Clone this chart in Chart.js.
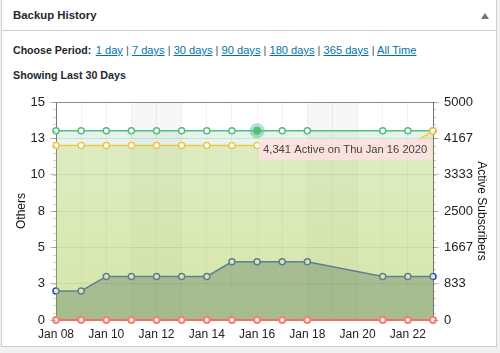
<!DOCTYPE html>
<html>
<head>
<meta charset="utf-8">
<script src="https://cdn.jsdelivr.net/npm/chart.js@4/dist/chart.umd.min.js"></script>
<style>
  html, body { margin: 0; padding: 0; background: #f1f1f1; width: 500px; height: 353px; overflow: hidden; }
  body { font-family: 'Liberation Sans', Arial, sans-serif; color: #23282d; position: relative; }
  .box { position: absolute; left: 1px; top: -1px; width: 496px; height: 348px; background: #fff; border: 1px solid #ccd0d4; box-sizing: border-box; }
  .hdr { position: absolute; left: 0; top: 0; width: 100%; height: 31px; border-bottom: 1px solid #ccd0d4; box-sizing: border-box; }
  .hdr h2 { position: absolute; left: 11px; top: 8px; margin: 0; font-size: 11.4px; font-weight: bold; line-height: 14px; }
  .arrow { position: absolute; left: 479px; top: 13px; width: 0; height: 0; border-left: 4px solid transparent; border-right: 4px solid transparent; border-bottom: 6px solid #72777c; }
  .period { position: absolute; left: 11px; top: 42px; margin: 0; white-space: nowrap; line-height: 14px; }
  .period b { font-size: 10.6px; }
  .period span { font-size: 11.1px; color: #555; }
  .period a { color: #0073aa; text-decoration: underline; }
  .showing { position: absolute; left: 11px; top: 68px; margin: 0; font-size: 10.7px; font-weight: bold; line-height: 14px; }
  .chart { position: absolute; left: 7px; top: 89px; width: 484px; height: 257px; }
</style>
</head>
<body>
<div class="box">
  <div class="hdr"><h2>Backup History</h2><div class="arrow"></div></div>
  <p class="period"><b>Choose Period:</b> <span><a>1 day</a> | <a>7 days</a> | <a>30 days</a> | <a>90 days</a> | <a>180 days</a> | <a>365 days</a> | <a>All Time</a></span></p>
  <p class="showing">Showing Last 30 Days</p>
  <div class="chart"><canvas id="myChart"></canvas></div>
</div>
<script>
// dates shown on the x axis (2020)
var dates = ['2020-01-08', '2020-01-09', '2020-01-10', '2020-01-11', '2020-01-12', '2020-01-13', '2020-01-14', '2020-01-15',
  '2020-01-16', '2020-01-17', '2020-01-18', '2020-01-19', '2020-01-20', '2020-01-21', '2020-01-22', '2020-01-23'];
var labels = ['Jan 08', 'Jan 09', 'Jan 10', 'Jan 11', 'Jan 12', 'Jan 13', 'Jan 14', 'Jan 15',
  'Jan 16', 'Jan 17', 'Jan 18', 'Jan 19', 'Jan 20', 'Jan 21', 'Jan 22', 'Jan 23'];

// series (null = no backup data that day)
var activeSubscribers = [4341, 4341, 4341, 4341, 4341, 4341, 4341, 4341, 4341, 4341, 4341, null, null, 4341, 4341, 4341];
var yellowSeries = [12, 12, 12, 12, 12, 12, 12, 12, 12, 12, 12, null, null, 12, 12, 13];
var blueSeries = [2, 2, 3, 3, 3, 3, 3, 4, 4, 4, 4, null, null, 3, 3, 3];
var redSeries = [0, 0, 0, 0, 0, 0, 0, 0, 0, 0, 0, null, null, 0, 0, 0];

var leftTicks = [0, 3, 5, 8, 10, 13, 15];
var rightTicks = [0, 833, 1667, 2500, 3333, 4167, 5000];
var hoverDate = 'Jan 16';

var font = "'Liberation Sans', Arial, sans-serif";

// grey bands behind the weekends, plot border and minor ticks
var weekendBands = {
  id: 'weekendBands',
  beforeDatasetsDraw: function (chart) {
    var ctx = chart.ctx, x = chart.scales.x, area = chart.chartArea;
    ctx.save();
    ctx.fillStyle = 'rgba(0,0,0,0.03)';
    dates.forEach(function (d, i) {
      var day = new Date(d + 'T12:00:00').getDay();
      if (day === 6) {
        var x0 = x.getPixelForValue(i);
        var x1 = x.getPixelForValue(Math.min(i + 2, dates.length - 1));
        ctx.fillRect(x0, area.top, x1 - x0, area.bottom - area.top);
      }
    });
    ctx.restore();
  },
  afterDraw: function (chart) {
    var ctx = chart.ctx, area = chart.chartArea;
    ctx.save();
    ctx.strokeStyle = '#8a8a8a';
    ctx.lineWidth = 1;
    ctx.beginPath();
    ctx.moveTo(area.left, area.top + 0.5);
    ctx.lineTo(area.right, area.top + 0.5);
    ctx.stroke();
    ctx.strokeStyle = 'rgba(0,0,0,0.18)';
    var y = chart.scales.y;
    for (var v = 0; v <= 15; v += 0.5) {
      var py = Math.round(y.getPixelForValue(v)) + 0.5;
      ctx.beginPath();
      ctx.moveTo(area.left - 3, py); ctx.lineTo(area.left, py);
      ctx.moveTo(area.right, py); ctx.lineTo(area.right + 3, py);
      ctx.stroke();
    }
    ctx.restore();
  }
};

function yellowFill(context) {
  var area = context.chart.chartArea;
  if (!area) return 'rgba(200,205,60,0.3)';
  var g = context.chart.ctx.createLinearGradient(0, area.top, 0, area.bottom);
  g.addColorStop(0, 'rgba(200,205,60,0.2)');
  g.addColorStop(1, 'rgba(190,205,60,0.38)');
  return g;
}

Chart.Tooltip.positioners.belowRight = function (items) {
  if (!items.length) return false;
  var el = items[0].element;
  return { x: el.x + 2, y: el.y, xAlign: 'left', yAlign: 'top' };
};

var ctx = document.getElementById('myChart').getContext('2d');
var myChart = new Chart(ctx, {
  type: 'line',
  data: {
    labels: labels,
    datasets: [
      {
        label: 'Red',
        data: redSeries,
        yAxisID: 'y',
        order: -1,
        clip: 4,
        borderColor: 'rgb(240,112,100)',
        borderWidth: 2,
        backgroundColor: 'rgba(240,120,110,0.2)',
        pointBackgroundColor: 'rgb(255,236,234)',
        pointBorderColor: 'rgb(240,130,120)',
        fill: false,
      },
      {
        label: 'Yellow',
        data: yellowSeries,
        yAxisID: 'y',
        borderColor: 'rgb(240,198,74)',
        backgroundColor: yellowFill,
        pointBackgroundColor: '#fff',
        fill: 'origin',
      },
      {
        label: 'Active Subscribers',
        data: activeSubscribers,
        yAxisID: 'y1',
        borderColor: 'rgb(82,190,128)',
        backgroundColor: 'rgba(82,190,128,0.15)',
        pointBackgroundColor: '#fff',
        pointHoverRadius: 4,
        pointHoverBorderWidth: 7,
        pointHoverBorderColor: 'rgba(82,190,128,0.45)',
        pointHoverBackgroundColor: 'rgb(82,190,128)',
        fill: 'origin',
      },
      {
        label: 'Blue',
        data: blueSeries,
        yAxisID: 'y',
        borderColor: 'rgb(40,70,200)',
        backgroundColor: 'rgba(30,60,120,0.4)',
        pointBackgroundColor: '#fff',
        fill: 'origin',
      },
    ],
  },
  options: {
    responsive: true,
    maintainAspectRatio: false,
    animation: false,
    events: [],
    spanGaps: true,
    layout: { padding: { top: 13 } },
    elements: {
      line: { tension: 0, borderWidth: 1.5 },
      point: { radius: 3, borderWidth: 1.5 },
    },
    plugins: {
      legend: { display: false },
      tooltip: {
        position: 'belowRight',
        caretSize: 0,
        caretPadding: 8,
        cornerRadius: 0,
        displayColors: false,
        backgroundColor: 'rgba(255,225,228,0.85)',
        bodyColor: '#444',
        bodyFont: { family: font, size: 11.2 },
        padding: { x: 4, y: 4 },
        filter: function (item) { return item.dataset.yAxisID === 'y1'; },
        callbacks: {
          title: function () { return ''; },
          label: function (item) {
            var d = new Date(dates[item.dataIndex] + 'T12:00:00');
            return item.raw.toLocaleString('en-US') + ' Active on ' + d.toDateString();
          },
        },
      },
    },
    scales: {
      x: {
        grid: { color: 'rgba(0,0,0,0.05)', drawTicks: false },
        border: { display: false },
        afterFit: function (s) { s.height = 26; },
        ticks: {
          autoSkip: false,
          maxRotation: 0,
          padding: 7,
          color: '#222',
          font: { family: font, size: 12 },
          callback: function (v, i) { return i % 2 === 0 ? labels[i] : ''; },
        },
      },
      y: {
        position: 'left',
        min: 0,
        max: 15,
        afterBuildTicks: function (s) { s.ticks = leftTicks.map(function (v, i) { return { value: i * 2.5 }; }); },
        afterFit: function (s) { s.width = 47; },
        grid: { color: 'rgba(0,0,0,0.1)', tickLength: 6, tickColor: 'rgba(0,0,0,0.25)' },
        border: { color: '#777' },
        title: { display: true, text: 'Others', color: '#111', font: { family: font, size: 12 }, padding: { top: 5, bottom: 0 } },
        ticks: {
          padding: 5,
          color: '#222',
          font: { family: font, size: 13 },
          callback: function (v, i) { return leftTicks[i]; },
        },
      },
      y1: {
        position: 'right',
        min: 0,
        max: 5000,
        afterBuildTicks: function (s) { s.ticks = rightTicks.map(function (v, i) { return { value: i * 5000 / 6 }; }); },
        afterFit: function (s) { s.width = 60; },
        grid: { drawOnChartArea: false, tickLength: 6, tickColor: 'rgba(0,0,0,0.25)' },
        border: { color: '#777' },
        title: { display: true, text: 'Active Subscribers', color: '#111', font: { family: font, size: 12 }, padding: { top: 4, bottom: 0 } },
        ticks: {
          padding: 5,
          color: '#222',
          font: { family: font, size: 13 },
          callback: function (v, i) { return rightTicks[i]; },
        },
      },
    },
  },
  plugins: [weekendBands],
});

var hoverIndex = labels.indexOf(hoverDate);
myChart.setActiveElements([{ datasetIndex: 2, index: hoverIndex }]);
myChart.tooltip.setActiveElements([{ datasetIndex: 2, index: hoverIndex }], { x: 0, y: 0 });
myChart.update('none');
</script>
</body>
</html>
